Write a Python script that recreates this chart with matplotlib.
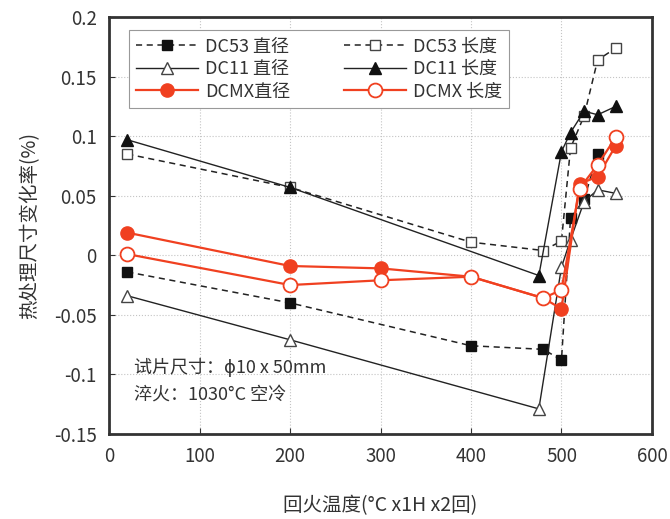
import matplotlib
matplotlib.use('Agg')
import matplotlib.pyplot as plt

plt.rcParams['font.family'] = ['Noto Sans CJK SC', 'DejaVu Sans']
plt.rcParams['axes.unicode_minus'] = False

# data
dc53_d_x = [20, 200, 400, 480, 500, 510, 525, 540]
dc53_d_y = [-0.014, -0.040, -0.076, -0.079, -0.088, 0.031, 0.047, 0.085]
dc53_l_x = [20, 200, 400, 480, 500, 510, 525, 540, 560]
dc53_l_y = [0.085, 0.057, 0.011, 0.004, 0.012, 0.090, 0.117, 0.164, 0.174]
dc11_d_x = [20, 200, 475, 500, 510, 525, 540, 560]
dc11_d_y = [-0.034, -0.071, -0.129, -0.010, 0.013, 0.045, 0.055, 0.052]
dc11_l_x = [20, 200, 475, 500, 510, 525, 540, 560]
dc11_l_y = [0.097, 0.057, -0.017, 0.087, 0.103, 0.121, 0.118, 0.125]
dcmx_d_x = [20, 200, 300, 400, 480, 500, 520, 540, 560]
dcmx_d_y = [0.019, -0.009, -0.011, -0.018, -0.036, -0.045, 0.060, 0.066, 0.092]
dcmx_l_x = [20, 200, 300, 400, 480, 500, 520, 540, 560]
dcmx_l_y = [0.001, -0.025, -0.021, -0.018, -0.036, -0.029, 0.056, 0.076, 0.099]

red = '#f04020'
dark = '#222222'
txt = '#333333'

fig = plt.figure(figsize=(6.7, 5.19), dpi=100)
ax = fig.add_axes([0.163, 0.164, 0.81, 0.803])

ax.plot(dc53_d_x, dc53_d_y, '--', color=dark, lw=1.1, dashes=(4, 3), marker='s', ms=7.5,
        mfc='#111111', mec='#111111', label='DC53 直径')
ax.plot(dc53_l_x, dc53_l_y, '--', color=dark, lw=1.1, dashes=(4, 3), marker='s', ms=7.5,
        mfc='white', mec='#444444', label='DC53 长度')
ax.plot(dc11_d_x, dc11_d_y, '-', color=dark, lw=1.0, marker='^', ms=8.5,
        mfc='white', mec='#444444', label='DC11 直径')
ax.plot(dc11_l_x, dc11_l_y, '-', color=dark, lw=1.0, marker='^', ms=8.5,
        mfc='#111111', mec='#111111', label='DC11 长度')
ax.plot(dcmx_d_x, dcmx_d_y, '-', color=red, lw=1.6, marker='o', ms=9.5,
        mfc=red, mec=red, label='DCMX直径')
ax.plot(dcmx_l_x, dcmx_l_y, '-', color=red, lw=1.6, marker='o', ms=10,
        mfc='white', mec=red, mew=1.3, label='DCMX 长度')

ax.set_xlim(0, 600)
ax.set_ylim(-0.15, 0.2)
ax.set_xticks(range(0, 601, 100))
ax.set_yticks([-0.15, -0.1, -0.05, 0, 0.05, 0.1, 0.15, 0.2])
ax.set_yticklabels(['-0.15', '-0.1', '-0.05', '0', '0.05', '0.1', '0.15', '0.2'])
ax.tick_params(direction='in', labelsize=13.5, colors=txt, length=4, pad=9)
ax.grid(True, linestyle=':', color='#c4c4c4', lw=0.8)
for s in ax.spines.values():
    s.set_linewidth(2)
    s.set_color('#333333')

ax.set_xlabel('回火温度(°C x1H x2回)', fontsize=14, color=txt, labelpad=20)
ax.set_ylabel('热处理尺寸变化率(%)', fontsize=14, color=txt, labelpad=10)

ax.text(0.045, 0.145, '试片尺寸：ϕ10 x 50mm', transform=ax.transAxes, fontsize=13, color=txt)
ax.text(0.045, 0.082, '淬火：1030°C 空冷', transform=ax.transAxes, fontsize=13, color=txt)

h, l = ax.get_legend_handles_labels()
order = [0, 2, 4, 1, 3, 5]
leg = ax.legend([h[i] for i in order], [l[i] for i in order], ncol=2, loc='upper left',
                bbox_to_anchor=(0.02, 0.99), fontsize=13, fancybox=False, framealpha=1,
                edgecolor='#999999', handlelength=3.4, borderpad=0.4, labelspacing=0.25,
                columnspacing=3.0, handletextpad=0.4)
leg.get_frame().set_linewidth(0.8)
for t in leg.get_texts():
    t.set_color(txt)

fig.savefig('out.png', dpi=100, facecolor='white')
